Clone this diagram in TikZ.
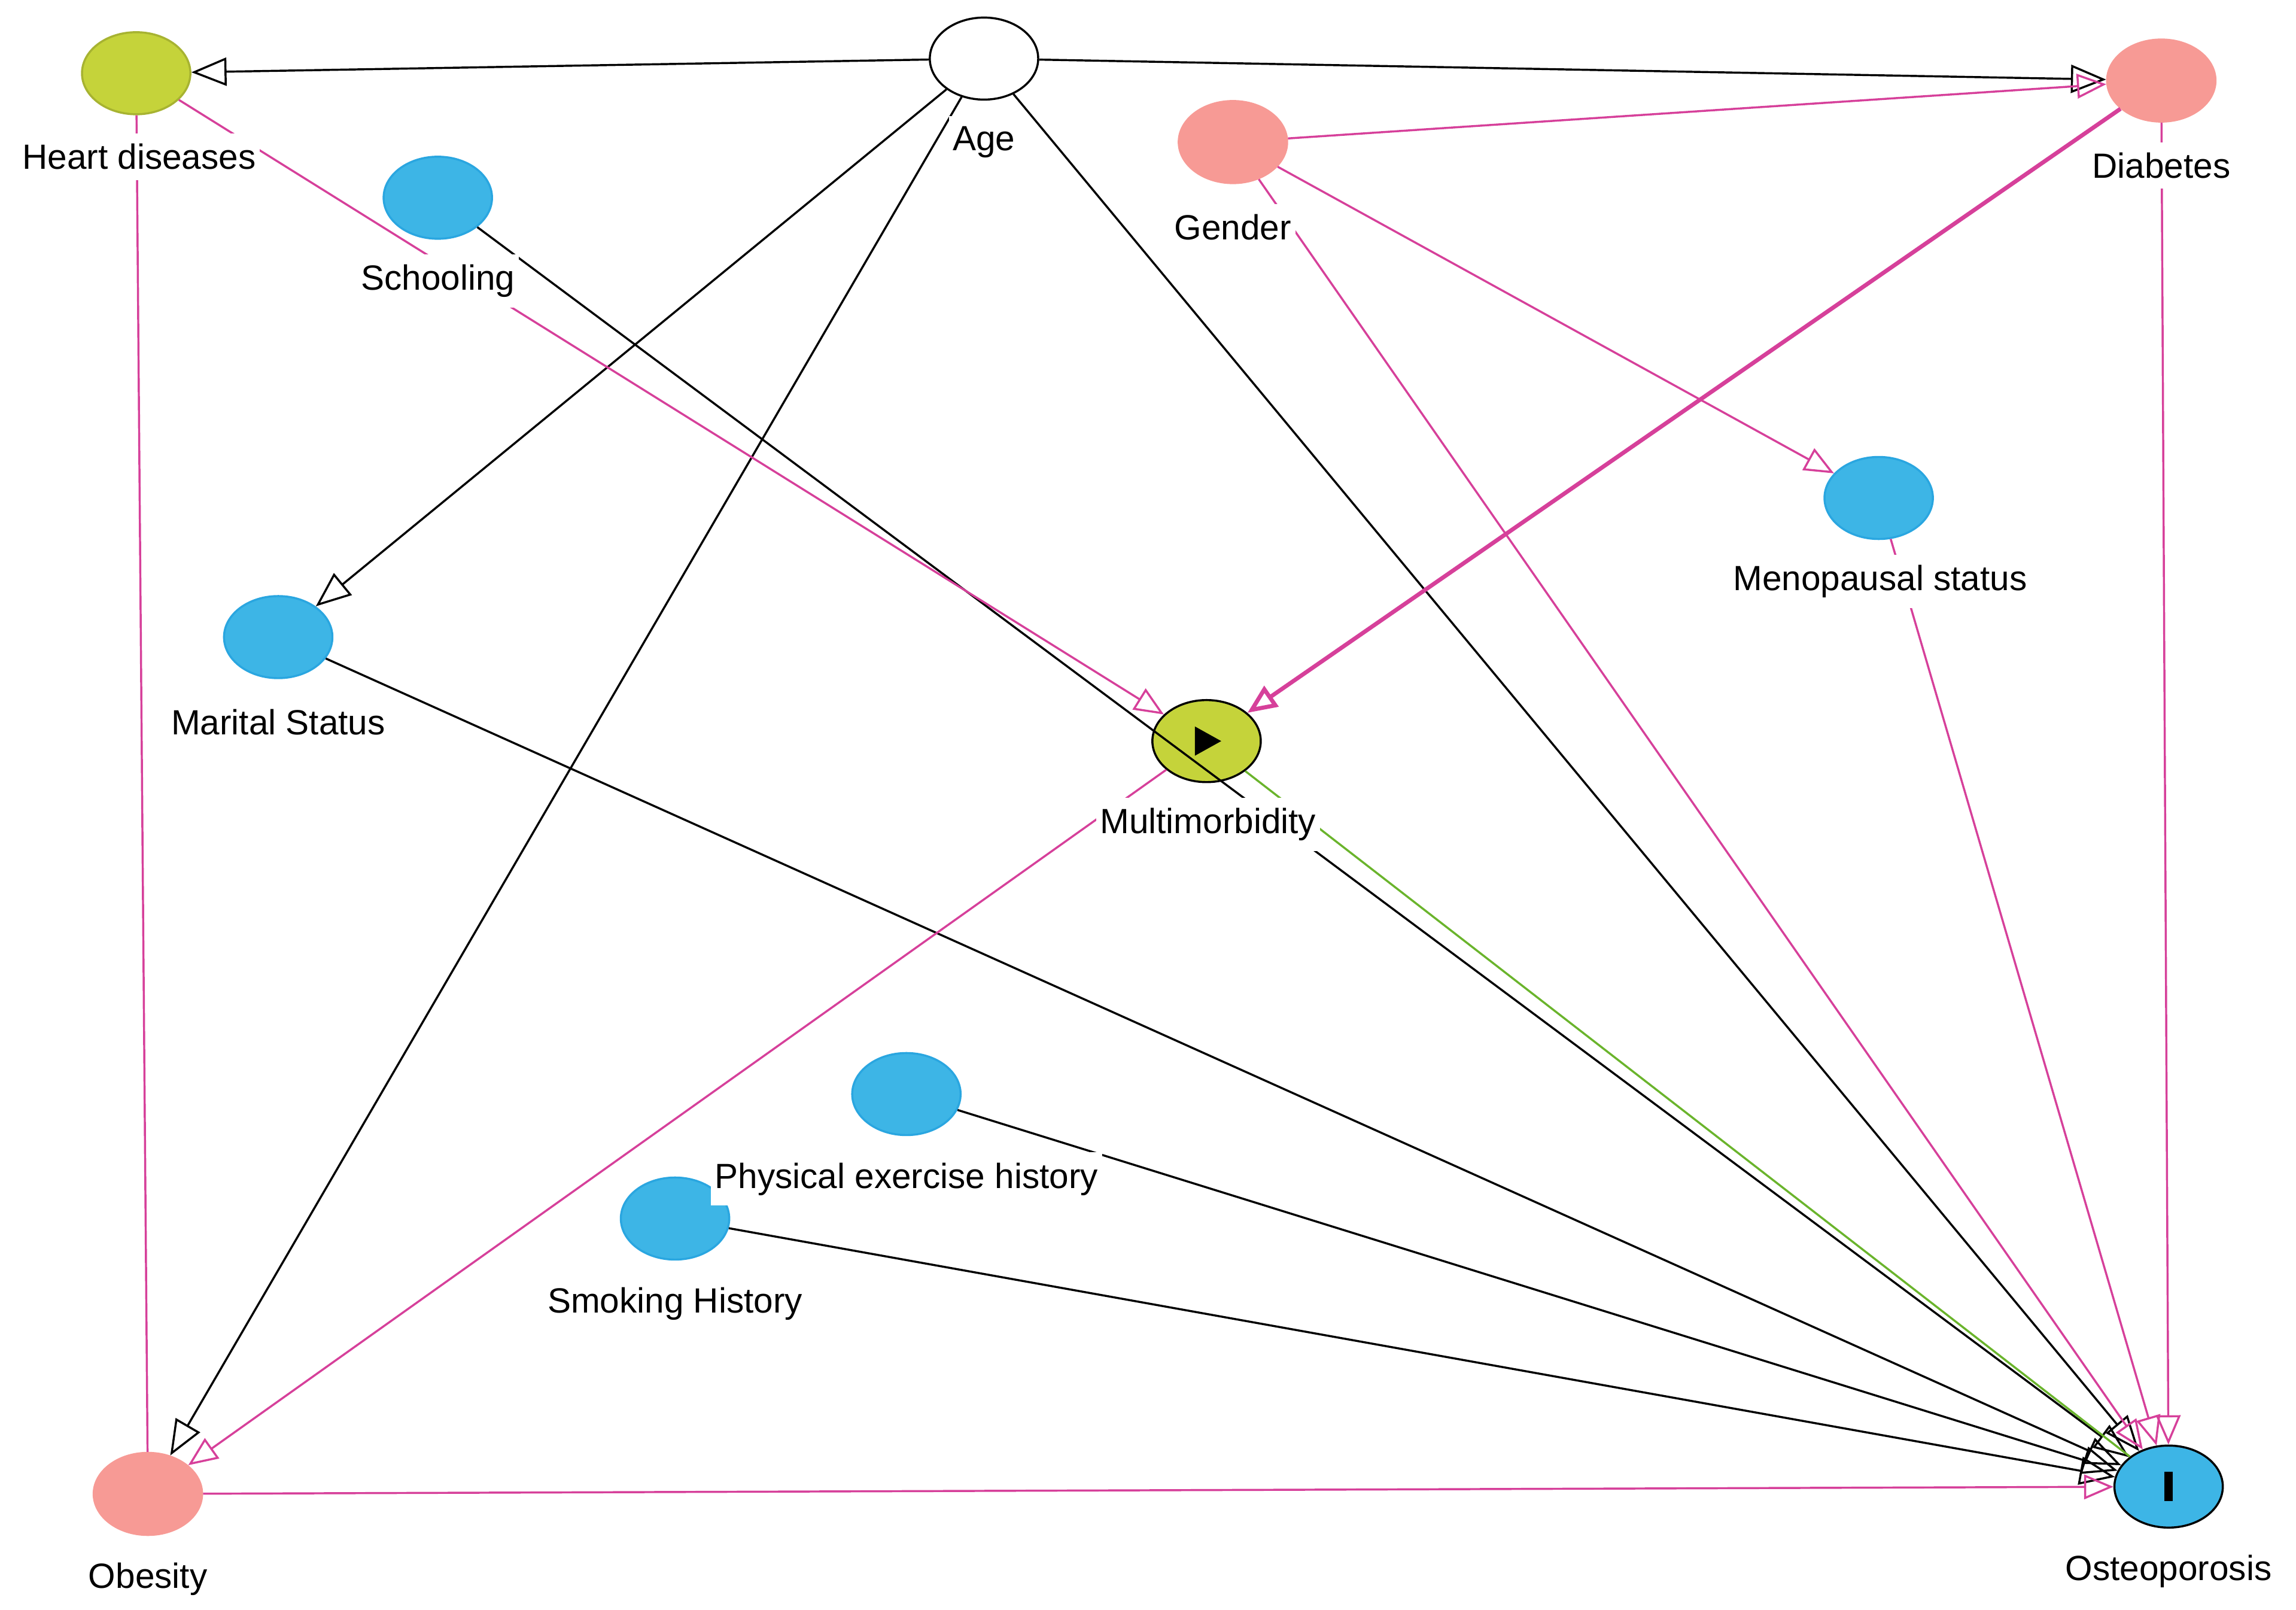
\documentclass[tikz,border=0pt]{standalone}
\usepackage{fontspec}
\setmainfont{Liberation Sans}
\usetikzlibrary{arrows.meta,shapes.geometric}
\definecolor{pk}{HTML}{F79A95}
\definecolor{bl}{HTML}{3DB5E6}
\definecolor{blb}{HTML}{2AA6E0}
\definecolor{yg}{HTML}{C5D33A}
\definecolor{mg}{HTML}{D6409A}
\definecolor{gr}{HTML}{6AB42C}
\begin{document}
\begin{tikzpicture}[x=0.025cm,y=-0.025cm,
 nd/.style={ellipse,minimum width=1.85cm,minimum height=1.4cm,inner sep=0pt,line width=1pt},
 pinkn/.style={nd,fill=pk,draw=pk},
 bluen/.style={nd,fill=bl,draw=blb},
 lab/.style={fill=white,inner xsep=2pt,inner ysep=5pt,font=\fontsize{17}{19}\selectfont},
 bk/.style={black,line width=1pt,-{Triangle[open,length=0.6cm,width=0.48cm]}},
 pe/.style={mg,line width=1pt,-{Triangle[open,length=0.5cm,width=0.42cm]}},
 ge/.style={gr,line width=1pt}]
\useasboundingbox (0,0) rectangle (1568,1099);
\node[nd,fill=yg,draw=yg!85!black] (hd) at (93,50) {};
\node[nd,fill=white,draw=black] (age) at (672,40) {};
\node[pinkn] (dia) at (1476,55) {};
\node[pinkn] (gen) at (842,97) {};
\node[bluen] (sch) at (299,135) {};
\node[bluen] (men) at (1283,340) {};
\node[bluen] (mar) at (190,435) {};
\node[nd,fill=yg,draw=black] (mm) at (824,506) {};
\fill (816,496) -- (816,516) -- (834,506) -- cycle;
\node[bluen] (phy) at (619,747) {};
\node[bluen] (smk) at (461,832) {};
\node[pinkn] (obe) at (101,1020) {};
\node[nd,fill=bl,draw=black] (ost) at (1481,1015) {};
\fill (1478,1005) rectangle (1484,1025);
% edges
\draw[mg,line width=1pt] (obe) -- (hd);
\draw[bk] (age) -- (hd);
\draw[bk] (age) -- (dia);
\draw[bk] (age) -- (mar);
\draw[bk] (age) -- (obe);
\draw[bk] (age) -- (ost);
\draw[bk] (sch) -- (ost);
\draw[bk] (mar) -- (ost);
\draw[bk] (phy) -- (ost);
\draw[bk] (smk) -- (ost);
\draw[ge] (mm) -- (ost);
\draw[pe] (hd) -- (mm);
\draw[pe] (gen) -- (dia);
\draw[pe] (gen) -- (men);
\draw[pe] (gen) -- (ost);
\draw[pe,line width=2pt] (dia) -- (mm);
\draw[pe] (dia) -- (ost);
\draw[pe] (men) -- (ost);
\draw[pe] (mm) -- (obe);
\draw[pe] (obe) -- (ost);
% labels
\node[lab] at (95,107) {Heart diseases};
\node[lab] at (672,97) {Age};
\node[lab] at (1476,113) {Diabetes};
\node[lab] at (842,155) {Gender};
\node[lab] at (299,192) {Schooling};
\node[lab] at (1284,397) {Menopausal status};
\node[lab] at (190,493) {Marital Status};
\node[lab] at (825,563) {Multimorbidity};
\node[lab] at (619,805) {Physical exercise history};
\node[lab] at (461,890) {Smoking History};
\node[lab] at (101,1078) {Obesity};
\node[lab] at (1481,1073) {Osteoporosis};
\end{tikzpicture}
\end{document}
